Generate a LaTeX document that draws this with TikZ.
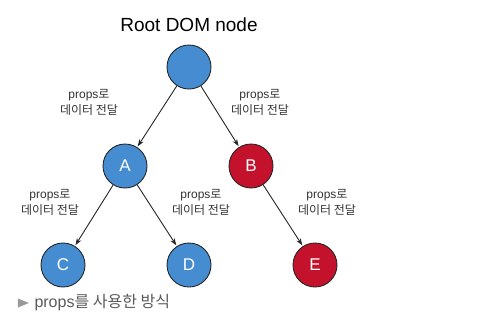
\documentclass[tikz,border=0pt]{standalone}
\usepackage{fontspec}
\setmainfont{Liberation Sans}
\newfontfamily\kr{Noto Sans CJK KR}
\usepackage{tikz}
\usetikzlibrary{positioning, shapes.geometric, arrows.meta}

\definecolor{nodeblue}{RGB}{69,141,208}
\definecolor{nodered}{RGB}{196,18,44}
\definecolor{captiongray}{RGB}{90,90,90}

\newcommand{\propsnotetext}{props{\kr 로}\\{\kr 데이터 전달}}

\tikzset{
    domnode/.style={circle, draw=black!85, line width=0.9bp, minimum size=44bp, inner sep=0pt,
        text=white, font=\fontsize{17bp}{19bp}\selectfont},
    bluenode/.style={domnode, fill=nodeblue},
    rednode/.style={domnode, fill=nodered},
    propsnote/.style={align=center, text=black!80, font=\fontsize{12bp}{16bp}\selectfont},
    propsedge/.style={-{Stealth[length=7bp, width=5bp]}, line width=0.9bp, black!85, shorten >=1bp}
}

\begin{document}
\begin{tikzpicture}[x=1bp, y=-1bp]
        \useasboundingbox (0,0) rectangle (497,328);

        % Define nodes
        \node[font=\fontsize{19bp}{21bp}\selectfont] (title) at (189, 25) {Root DOM node};
        \node[bluenode] (root) at (189, 67) {};
        \node[bluenode] (a) at (125, 166) {A};
        \node[rednode] (b) at (251, 166) {B};
        \node[bluenode] (c) at (63, 265) {C};
        \node[bluenode] (d) at (189, 265) {D};
        \node[rednode] (e) at (315, 265) {E};

        % Labels
        \node[propsnote] (noteRA) at (89, 102) {\propsnotetext};
        \node[propsnote] (noteRB) at (260, 102) {\propsnotetext};
        \node[propsnote] (noteAC) at (50, 202) {\propsnotetext};
        \node[propsnote] (noteAD) at (201, 202) {\propsnotetext};
        \node[propsnote] (noteBE) at (327, 202) {\propsnotetext};

        % Draw edges
        \draw[propsedge] (root) -- (a);
        \draw[propsedge] (root) -- (b);
        \draw[propsedge] (a) -- (c);
        \draw[propsedge] (a) -- (d);
        \draw[propsedge] (b) -- (e);

        % Caption
        \node[isosceles triangle, fill=black!40, inner sep=0pt, minimum height=8bp, minimum width=9bp] (mark) at (21, 303) {};
        \node[anchor=west, text=captiongray, font=\fontsize{16bp}{18bp}\selectfont] (caption) at (31, 303) {props{\kr 를 사용한 방식}};
    \end{tikzpicture}
\end{document}
